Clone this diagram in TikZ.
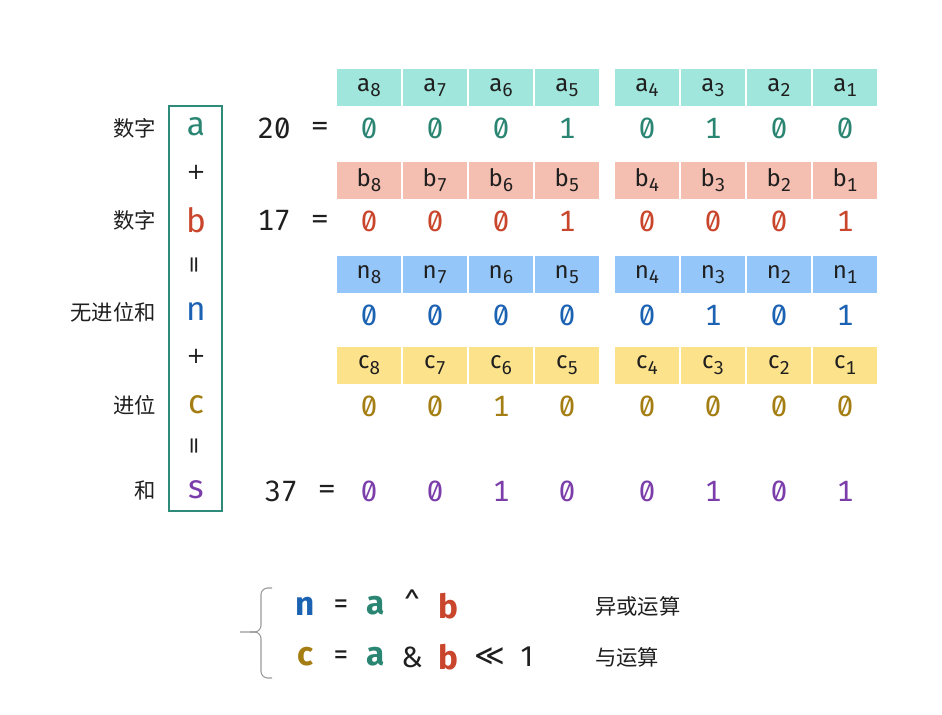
\documentclass[tikz,border=0pt]{standalone}
\usepackage{fontspec}
\setmainfont{Fira Sans}
\setsansfont{Fira Sans}
\setmonofont{DejaVu Sans Mono}
\newfontfamily\cjk{Noto Sans CJK SC}
\newfontfamily\symf{DejaVu Sans}
\newfontfamily\bitf[Numbers=Monospaced, RawFeature=+zero]{Fira Sans}
\usepackage{xcolor}
\definecolor{txtcolor}{HTML}{1F1F1F}
\definecolor{acolor}{HTML}{2A8573}
\definecolor{acellcolor}{HTML}{A0E6DC}
\definecolor{bcolor}{HTML}{C9452B}
\definecolor{bcellcolor}{HTML}{F4BEB1}
\definecolor{ncolor}{HTML}{1B62B3}
\definecolor{ncellcolor}{HTML}{94C6FA}
\definecolor{ccolor}{HTML}{A47E12}
\definecolor{ccellcolor}{HTML}{FDE28C}
\definecolor{scolor}{HTML}{7B3DAA}
\definecolor{boxcolor}{HTML}{2E8B7A}
\usepackage{tikz}

\newcommand{\bitlbl}[2]{#1\raisebox{-4pt}{\fontsize{14}{16}\selectfont #2}}

\tikzset{
  cellbox/.style={minimum width=48pt, minimum height=27.75pt, inner sep=0pt,
    text=txtcolor, font=\bitf\fontsize{18}{20}\selectfont},
  bitnum/.style={inner sep=0pt, font=\bitf\fontsize{22}{26}\selectfont},
  eqsign/.style={inner sep=0pt, text=txtcolor, font=\ttfamily\fontsize{20}{24}\selectfont},
  varltr/.style={inner sep=0pt, font=\sffamily\fontsize{25}{30}\selectfont},
  signltr/.style={inner sep=0pt, text=txtcolor, font=\symf\fontsize{17}{20}\selectfont},
  cnlabel/.style={inner sep=0pt, anchor=east, text=txtcolor, font=\cjk\fontsize{16}{19}\selectfont},
  fmlbold/.style={inner sep=0pt, font=\sffamily\bfseries\fontsize{25}{30}\selectfont},
  fmlop/.style={inner sep=0pt, text=txtcolor, font=\sffamily\fontsize{22}{26}\selectfont},
}

\begin{document}
\begin{tikzpicture}[x=0.75pt, y=-0.75pt]
  \useasboundingbox (0,0) rectangle (942,714);

  % bit cells and values
  \foreach \i/\x/\av/\bv/\nv/\cv/\sv in {8/369/0/0/0/0/0, 7/435/0/0/0/0/0,
      6/501/0/0/0/1/1, 5/567/1/1/0/0/0, 4/647/0/0/0/0/0, 3/713/1/0/1/0/1,
      2/779/0/0/0/0/0, 1/845/0/1/1/0/1} {
    \node[cellbox, fill=acellcolor] (a\i) at (\x,87.5) {\bitlbl{a}{\i}};
    \node[bitnum, text=acolor] (a\i v) at (\x,128) {\av};
    \node[cellbox, fill=bcellcolor] (b\i) at (\x,180) {\bitlbl{b}{\i}};
    \node[bitnum, text=bcolor] (b\i v) at (\x,221) {\bv};
    \node[cellbox, fill=ncellcolor] (n\i) at (\x,274.5) {\bitlbl{n}{\i}};
    \node[bitnum, text=ncolor] (n\i v) at (\x,315) {\nv};
    \node[cellbox, fill=ccellcolor] (c\i) at (\x,365) {\bitlbl{c}{\i}};
    \node[bitnum, text=ccolor] (c\i v) at (\x,406) {\cv};
    \node[bitnum, text=scolor] (s\i v) at (\x,491) {\sv};
  }

  % decimal values
  \node[bitnum, text=txtcolor] (num20) at (274,128) {20};
  \node[eqsign] (eq20) at (320,128) {=};
  \node[bitnum, text=txtcolor] (num17) at (274,221) {17};
  \node[eqsign] (eq17) at (320,221) {=};
  \node[bitnum, text=txtcolor] (num37) at (281,491) {37};
  \node[eqsign] (eq37) at (327,491) {=};

  % left column
  \draw[boxcolor, line width=1.1pt] (169,106) rectangle (222,511);
  \node[varltr, text=acolor] (va) at (196,127) {a};
  \node[signltr] (vp1) at (196,172) {+};
  \node[varltr, text=bcolor] (vb) at (196,220) {b};
  \node[signltr, rotate=90] (ve1) at (196,265) {=};
  \node[varltr, text=ncolor] (vn) at (196,312) {n};
  \node[signltr] (vp2) at (196,356) {+};
  \node[varltr, text=ccolor] (vc) at (196,405) {c};
  \node[signltr, rotate=90] (ve2) at (196,446) {=};
  \node[varltr, text=scolor] (vs) at (196,490) {s};

  \node[cnlabel] (la) at (156,128) {数字};
  \node[cnlabel] (lb) at (156,220) {数字};
  \node[cnlabel] (ln) at (156,312) {无进位和};
  \node[cnlabel] (lc) at (156,405) {进位};
  \node[cnlabel] (ls) at (156,490) {和};

  % formulas
  \draw[gray!80, line width=0.8pt, rounded corners=5pt] (272,588) -| (261,632) -- (240,632);
  \draw[gray!80, line width=0.8pt, rounded corners=5pt] (272,678) -| (261,632) -- (250,632);

  \node[fmlbold, text=ncolor] (f1n) at (305,606) {n};
  \node[fmlop] (f1eq) at (341,607) {=};
  \node[fmlbold, text=acolor] (f1a) at (376,606) {a};
  \node[fmlop] (f1op) at (412,602) {\^{}};
  \node[fmlbold, text=bcolor] (f1b) at (448,606) {b};
  \node[cnlabel, anchor=west] (f1lbl) at (595,606) {异或运算};

  \node[fmlbold, text=ccolor] (f2c) at (305,657) {c};
  \node[fmlop] (f2eq) at (341,658) {=};
  \node[fmlbold, text=acolor] (f2a) at (376,657) {a};
  \node[fmlop] (f2op) at (412,657) {\&};
  \node[fmlbold, text=bcolor] (f2b) at (448,657) {b};
  \node[fmlop, font=\symf\fontsize{22}{26}\selectfont] (f2sh) at (490,657) {≪};
  \node[fmlop] (f2one) at (527,657) {1};
  \node[cnlabel, anchor=west] (f2lbl) at (595,657) {与运算};
\end{tikzpicture}
\end{document}
